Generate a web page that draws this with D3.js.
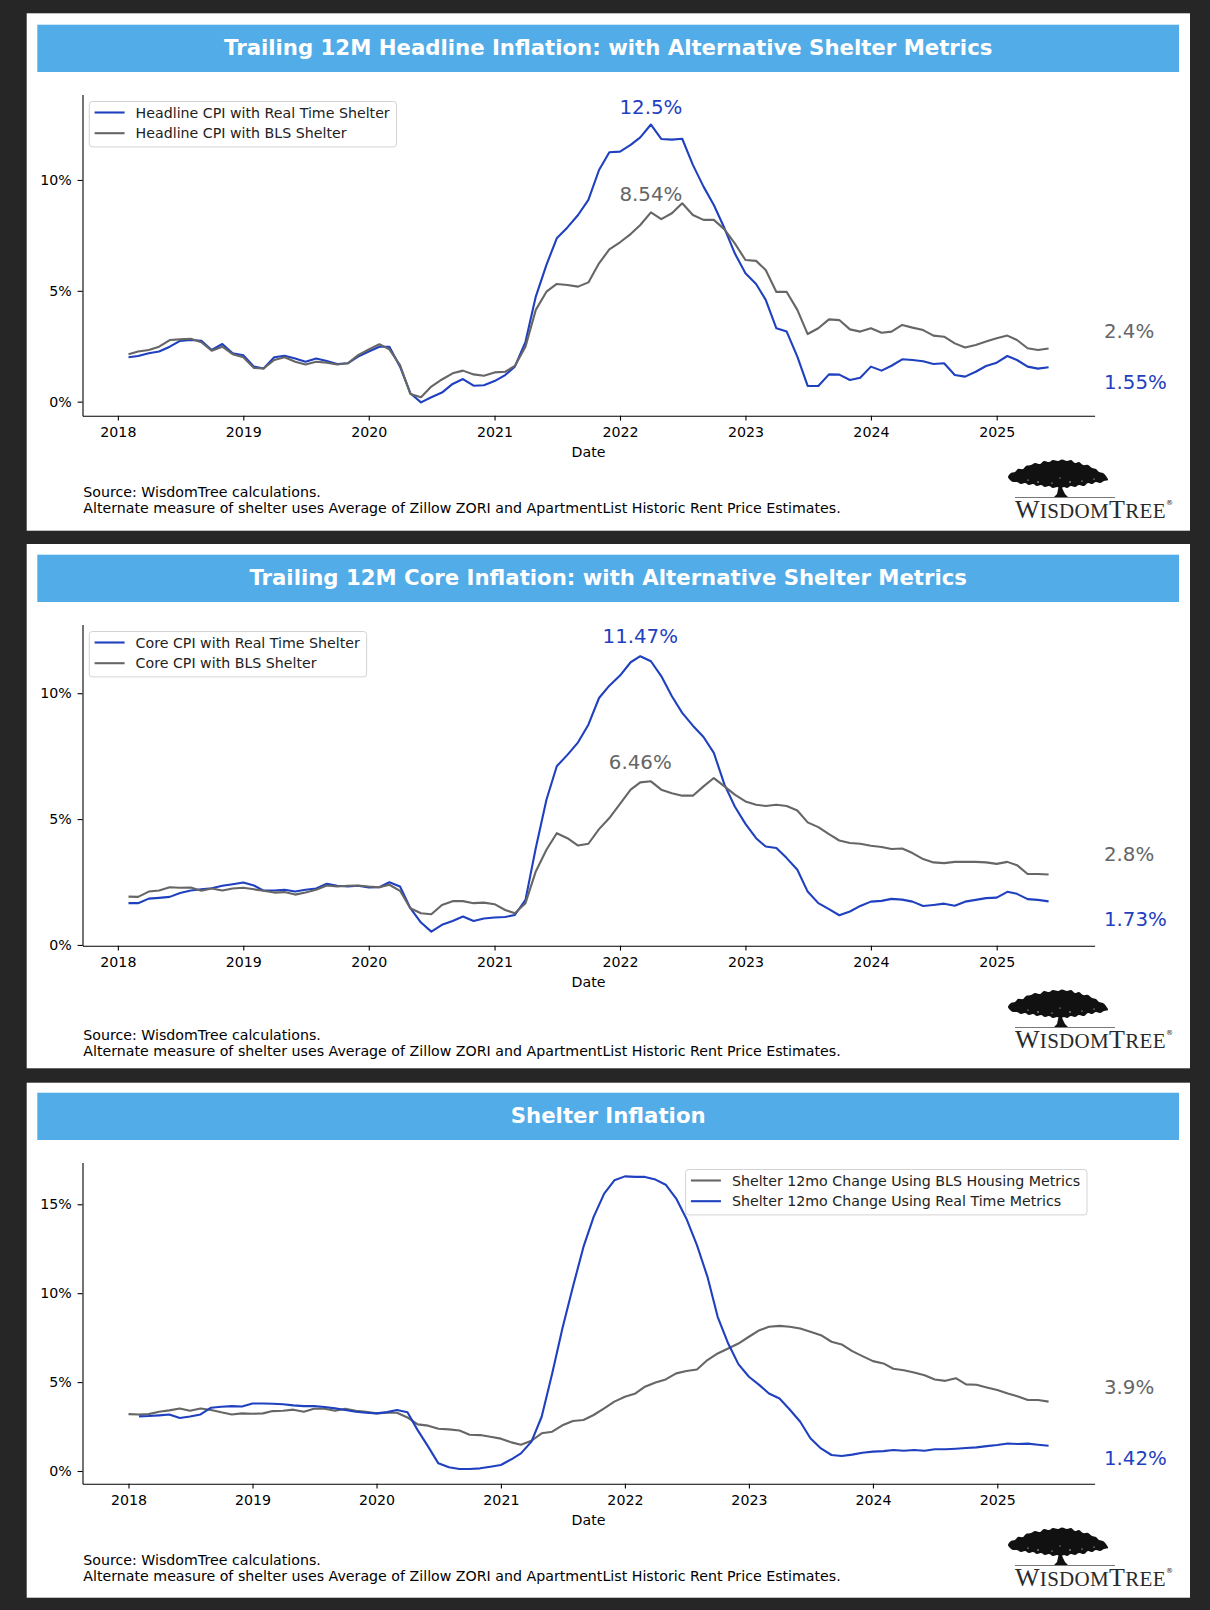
<!DOCTYPE html>
<html><head><meta charset="utf-8">
<script src="https://cdn.jsdelivr.net/npm/d3@7"></script>
<style>
body{margin:0;background:#262626;}
svg{display:block;}
text{font-family:"DejaVu Sans",sans-serif;}
</style></head>
<body><svg id="chart" width="1210" height="1610"></svg>
<script>
// ---------------- DATA ----------------
const headlineRealTime = [
  2.0,2.06,2.18,2.26,2.48,2.74,2.78,2.75,2.33,2.6,2.18,
  2.09,1.58,1.5,2.0,2.07,1.95,1.8,1.95,1.83,1.7,1.73,2.03,
  2.26,2.48,2.48,1.58,0.38,-0.03,0.2,0.41,0.8,1.02,0.72,0.74,
  0.93,1.2,1.58,2.7,4.74,6.17,7.37,7.86,8.42,9.1,10.45,11.25,
  11.28,11.58,11.92,12.5,11.85,11.82,11.86,10.68,9.7,8.87,7.82,6.69,
  5.79,5.31,4.59,3.31,3.16,2.03,0.71,0.71,1.23,1.22,0.98,1.08,
  1.58,1.4,1.62,1.91,1.88,1.82,1.7,1.73,1.2,1.13,1.35,1.61,
  1.76,2.06,1.88,1.58,1.49,1.55];
const headlineBLS = [
  2.14,2.26,2.33,2.48,2.78,2.81,2.84,2.68,2.3,2.48,2.14,
  2.0,1.52,1.5,1.88,2.0,1.8,1.68,1.8,1.76,1.68,1.73,2.1,
  2.36,2.59,2.36,1.65,0.35,0.2,0.68,1.0,1.28,1.4,1.23,1.17,
  1.32,1.35,1.61,2.48,4.14,4.96,5.31,5.26,5.19,5.38,6.24,6.87,
  7.19,7.56,7.97,8.54,8.23,8.5,8.95,8.42,8.2,8.2,7.77,7.14,
  6.39,6.35,5.94,4.95,4.95,4.14,3.05,3.31,3.71,3.68,3.26,3.16,
  3.31,3.11,3.16,3.46,3.34,3.23,2.98,2.93,2.63,2.44,2.56,2.71,
  2.86,2.98,2.78,2.41,2.33,2.4];
const coreRealTime = [
  1.66,1.66,1.84,1.87,1.91,2.06,2.16,2.21,2.25,2.35,2.41,
  2.48,2.36,2.16,2.16,2.19,2.12,2.19,2.24,2.43,2.35,2.32,2.35,
  2.28,2.29,2.49,2.32,1.46,0.89,0.53,0.8,0.95,1.13,0.95,1.05,
  1.09,1.11,1.19,1.79,3.85,5.77,7.1,7.55,8.05,8.75,9.81,10.3,
  10.7,11.23,11.47,11.27,10.68,9.88,9.22,8.71,8.26,7.63,6.37,5.5,
  4.81,4.24,3.91,3.85,3.45,2.99,2.12,1.66,1.42,1.18,1.33,1.55,
  1.72,1.75,1.83,1.8,1.72,1.55,1.59,1.64,1.56,1.72,1.79,1.86,
  1.88,2.11,2.03,1.82,1.79,1.73];
const coreBLS = [
  1.92,1.91,2.12,2.16,2.29,2.27,2.28,2.15,2.24,2.16,2.24,
  2.27,2.21,2.15,2.08,2.1,2.0,2.08,2.19,2.36,2.32,2.35,2.36,
  2.32,2.29,2.39,2.15,1.46,1.26,1.22,1.59,1.74,1.74,1.66,1.68,
  1.62,1.39,1.26,1.66,2.92,3.78,4.44,4.24,3.95,4.02,4.6,5.04,
  5.6,6.17,6.46,6.5,6.17,6.03,5.93,5.93,6.3,6.63,6.3,5.97,
  5.7,5.57,5.52,5.57,5.52,5.34,4.87,4.68,4.4,4.15,4.05,4.02,
  3.94,3.89,3.81,3.83,3.65,3.41,3.28,3.25,3.3,3.3,3.3,3.28,
  3.22,3.3,3.17,2.82,2.82,2.8];
const shelterBLS = [
  3.2,3.18,3.2,3.33,3.41,3.52,3.39,3.52,3.43,3.3,3.18,3.24,
  3.22,3.24,3.37,3.39,3.45,3.33,3.5,3.5,3.39,3.5,3.39,3.33,
  3.24,3.28,3.28,3.01,2.62,2.55,2.38,2.34,2.28,2.04,2.02,1.93,
  1.82,1.61,1.48,1.7,2.12,2.21,2.57,2.81,2.87,3.15,3.52,3.9,
  4.18,4.36,4.74,4.98,5.15,5.49,5.62,5.71,6.24,6.61,6.89,7.17,
  7.55,7.92,8.11,8.16,8.11,8.01,7.83,7.64,7.27,7.12,6.74,6.46,
  6.18,6.05,5.75,5.67,5.54,5.39,5.15,5.07,5.22,4.87,4.85,4.7,
  4.55,4.36,4.21,3.99,3.99,3.9];
const shelterRealTime = [
  3.07,3.09,3.13,3.18,2.98,3.07,3.18,3.56,3.61,3.65,3.63,
  3.8,3.8,3.78,3.75,3.69,3.65,3.65,3.6,3.52,3.43,3.33,3.28,
  3.24,3.31,3.43,3.3,2.3,1.37,0.43,0.21,0.11,0.11,0.15,0.24,
  0.34,0.66,0.99,1.65,3.05,5.49,8.01,10.36,12.6,14.29,15.6,16.35,
  16.57,16.54,16.54,16.39,16.1,15.32,14.19,12.7,10.92,8.67,7.17,6.01,
  5.3,4.83,4.36,4.08,3.46,2.77,1.84,1.27,0.9,0.84,0.92,1.03,
  1.09,1.12,1.18,1.14,1.18,1.14,1.22,1.22,1.25,1.29,1.33,1.4,
  1.46,1.55,1.52,1.54,1.48,1.42];

const startFeb2018 = new Date(2018, 1, 1);
const startJan2018 = new Date(2018, 0, 1);
const yearTicks = [2018, 2019, 2020, 2021, 2022, 2023, 2024, 2025];
const yTicksA = [0, 5, 10];
const yTicksB = [0, 5, 10, 15];

const titles = [
  "Trailing 12M Headline Inflation: with Alternative Shelter Metrics",
  "Trailing 12M Core Inflation: with Alternative Shelter Metrics",
  "Shelter Inflation"
];
const footerLines = [
  "Source: WisdomTree calculations.",
  "Alternate measure of shelter uses Average of Zillow ZORI and ApartmentList Historic Rent Price Estimates."
];

// ---------------- STYLE / LAYOUT ----------------
const BLUE = "#1f40bf", GRAY = "#666666", BAR = "#51ace8";
const AX = {left: 82.5, right: 1094.6, top: 94.5, bottom: 415.7};
const FS = 14.2, FS_ANN = 19.8;

const panels = [
  {title: titles[0], rectY: 13.3, rectH: 517.4, dy: 0, footDy: 0,
   yDomain: [-0.633, 13.855], yTicks: yTicksA,
   series: [
     {label: "Headline CPI with Real Time Shelter", values: headlineRealTime, start: startFeb2018, color: BLUE, key: "rt"},
     {label: "Headline CPI with BLS Shelter", values: headlineBLS, start: startFeb2018, color: GRAY, key: "bls"}],
   legendPos: "left", peakOffset: 11, endOff: {bls: -10.2, rt: 22}},
  {title: titles[1], rectY: 544, rectH: 524.3, dy: 530, footDy: 13,
   yDomain: [-0.03, 12.73], yTicks: yTicksA,
   series: [
     {label: "Core CPI with Real Time Shelter", values: coreRealTime, start: startFeb2018, color: BLUE, key: "rt"},
     {label: "Core CPI with BLS Shelter", values: coreBLS, start: startFeb2018, color: GRAY, key: "bls"}],
   legendPos: "left", peakOffset: 13, endOff: {bls: -13.2, rt: 24.5}},
  {title: titles[2], rectY: 1082.7, rectH: 515, dy: 1068, footDy: 0,
   yDomain: [-0.714, 17.35], yTicks: yTicksB,
   series: [
     {label: "Shelter 12mo Change Using BLS Housing Metrics", values: shelterBLS, start: startJan2018, color: GRAY, key: "bls"},
     {label: "Shelter 12mo Change Using Real Time Metrics", values: shelterRealTime, start: startFeb2018, color: BLUE, key: "rt"}],
   legendPos: "right", peakOffset: null, endOff: {bls: -7.2, rt: 19.5}}
];

const svg = d3.select("#chart");
svg.append("rect").attr("width", 1210).attr("height", 1610).attr("fill", "#262626");

// decorative logo outline (not data)
const canopyOutline = [[0,17],[3,13],[7,12],[10,9],[15,9],[18,6],[23,5],[27,3],[32,4],[36,1],[41,2],[45,0],[50,1],[54,-0.5],
  [59,1],[63,0],[67,3],[71,2],[75,5],[80,5],[84,8],[88,9],[91,12],[95,13],[98,16],[100,20],[96,21],[92,23],[88,22],[84,24],
  [80,23],[76,26],[71,25],[67,27],[63,26],[59,28],[56,27],[53,28],[49,27],[45,28],[41,26],[37,27],[33,25],[29,26],[25,24],
  [21,25],[17,23],[13,24],[9,22],[5,22],[2,20]];

function drawLogo(g) {
  const lg = g.append("g").attr("transform", "translate(1008,460)");
  lg.append("path").attr("fill", "#111")
    .attr("d", d3.line().curve(d3.curveCatmullRomClosed)(canopyOutline));
  lg.append("path").attr("fill", "#111").attr("d", "M51,25 L53,25 L55,30 L57,34 L60,37 L46,37 L49,34 Z");
  [[30,22,0.7],[44,23,0.6],[62,22,0.7],[74,21,0.6],[20,20,0.6],[86,19,0.6],[52,18,0.5]]
    .forEach(c => lg.append("circle").attr("cx", c[0]).attr("cy", c[1]).attr("r", c[2]).attr("fill", "#fff"));
  lg.append("line").attr("x1", 7).attr("x2", 107).attr("y1", 37.5).attr("y2", 37.5)
    .attr("stroke", "#555").attr("stroke-width", 0.8);
  const t = g.append("text").attr("x", 1015).attr("y", 518)
    .style("font-family", "'Liberation Serif',serif").attr("fill", "#2a2a2a").attr("letter-spacing", 0.3);
  t.append("tspan").attr("font-size", 26).text("W");
  t.append("tspan").attr("font-size", 21).text("ISDOM");
  t.append("tspan").attr("font-size", 26).text("T");
  t.append("tspan").attr("font-size", 21).text("REE");
  g.append("text").attr("x", 1166).attr("y", 505).attr("font-size", 7).attr("fill", "#222").text("®");
}

panels.forEach(p => {
  svg.append("rect").attr("x", 26.7).attr("y", p.rectY).attr("width", 1163.3).attr("height", p.rectH).attr("fill", "#fff");
  const g = svg.append("g").attr("transform", `translate(0,${p.dy})`);

  // title bar
  g.append("rect").attr("x", 37.3).attr("y", 24.7).attr("width", 1141.7).attr("height", 47.3).attr("fill", BAR);
  g.append("text").attr("x", 608.2).attr("y", 54.5).attr("text-anchor", "middle")
    .attr("font-size", 21.25).attr("font-weight", "bold").attr("fill", "#fff").text(p.title);

  // data with dates
  p.series.forEach(s => {
    s.dates = d3.timeMonth.range(s.start, d3.timeMonth.offset(s.start, s.values.length));
    s.pts = s.values.map((v, i) => ({d: s.dates[i], v}));
  });
  const allDates = p.series.flatMap(s => s.dates);
  const t0 = d3.min(allDates), t1 = d3.max(allDates);
  const pad = (t1 - t0) * 0.05;
  const x = d3.scaleTime().domain([new Date(+t0 - pad), new Date(+t1 + pad)]).range([AX.left, AX.right]);
  const y = d3.scaleLinear().domain(p.yDomain).range([AX.bottom, AX.top]);

  // axes
  const xa = g.append("g").attr("transform", `translate(0,${AX.bottom})`)
    .call(d3.axisBottom(x).tickValues(yearTicks.map(yr => new Date(yr, 0, 1)))
      .tickFormat(d3.timeFormat("%Y")).tickSize(4.9).tickSizeOuter(0).tickPadding(6.3));
  const ya = g.append("g").attr("transform", `translate(${AX.left},0)`)
    .call(d3.axisLeft(y).tickValues(p.yTicks).tickFormat(d => d + "%").tickSize(4.9).tickSizeOuter(0).tickPadding(5.8));
  [xa, ya].forEach(a => {
    a.selectAll("text").attr("font-size", FS).attr("fill", "#000").style("font-family", "'DejaVu Sans',sans-serif");
    a.selectAll("line").attr("stroke", "#000").attr("stroke-width", 1.1);
    a.select(".domain").attr("stroke", "#000").attr("stroke-width", 1.1);
  });
  g.append("text").attr("x", (AX.left + AX.right) / 2).attr("y", 456.6).attr("text-anchor", "middle")
    .attr("font-size", FS).attr("fill", "#000").text("Date");

  // lines
  const line = d3.line().x(d => x(d.d)).y(d => y(d.v));
  p.series.forEach(s => {
    g.append("path").datum(s.pts).attr("d", line).attr("fill", "none")
      .attr("stroke", s.color).attr("stroke-width", 2.1).attr("stroke-linejoin", "round");
  });

  // legend
  const lg = g.append("g");
  const box = lg.append("rect").attr("fill", "#fff").attr("fill-opacity", 0.85)
    .attr("stroke", "#d3d3d3").attr("stroke-width", 1).attr("rx", 3);
  const items = lg.selectAll("g.it").data(p.series).join("g").attr("class", "it");
  items.append("line").attr("x1", 0).attr("x2", 30).attr("y1", 0).attr("y2", 0)
    .attr("stroke", d => d.color).attr("stroke-width", 2.1);
  items.append("text").attr("x", 41).attr("y", 5).attr("font-size", FS).attr("fill", "#222").text(d => d.label);
  let maxW = 0;
  items.selectAll("text").each(function(){ maxW = Math.max(maxW, this.getComputedTextLength()); });
  const bw = 46.4 + maxW + 6.7, bh = 45.4;
  const bx = p.legendPos === "left" ? AX.left + 6.8 : AX.right - 7.6 - bw;
  const by = AX.top + 7;
  box.attr("x", bx).attr("y", by).attr("width", bw).attr("height", bh);
  items.attr("transform", (d, i) => `translate(${bx + 5.3},${by + 11 + i * 20.7})`);

  // peak annotations
  const rt = p.series.find(s => s.key === "rt"), bls = p.series.find(s => s.key === "bls");
  if (p.peakOffset !== null) {
    const pk = rt.pts.reduce((a, b) => (b.v > a.v ? b : a));
    const gv = bls.pts.find(q => +q.d === +pk.d);
    g.append("text").attr("x", x(pk.d)).attr("y", y(pk.v) - p.peakOffset).attr("text-anchor", "middle")
      .attr("font-size", FS_ANN).attr("fill", BLUE).text(pk.v + "%");
    g.append("text").attr("x", x(gv.d)).attr("y", y(gv.v) - p.peakOffset).attr("text-anchor", "middle")
      .attr("font-size", FS_ANN).attr("fill", GRAY).text(gv.v + "%");
  }
  // end labels
  [bls, rt].forEach(s => {
    const last = s.pts[s.pts.length - 1];
    g.append("text").attr("x", 1104).attr("y", y(last.v) + p.endOff[s.key])
      .attr("font-size", FS_ANN).attr("fill", s.color).text(last.v + "%");
  });

  // footer
  const fg = g.append("g").attr("transform", `translate(0,${p.footDy})`);
  footerLines.forEach((ln, i) => fg.append("text").attr("x", 83.3).attr("y", 497 + i * 16)
    .attr("font-size", FS).attr("fill", "#000").text(ln));
  drawLogo(g);
});
</script></body></html>
